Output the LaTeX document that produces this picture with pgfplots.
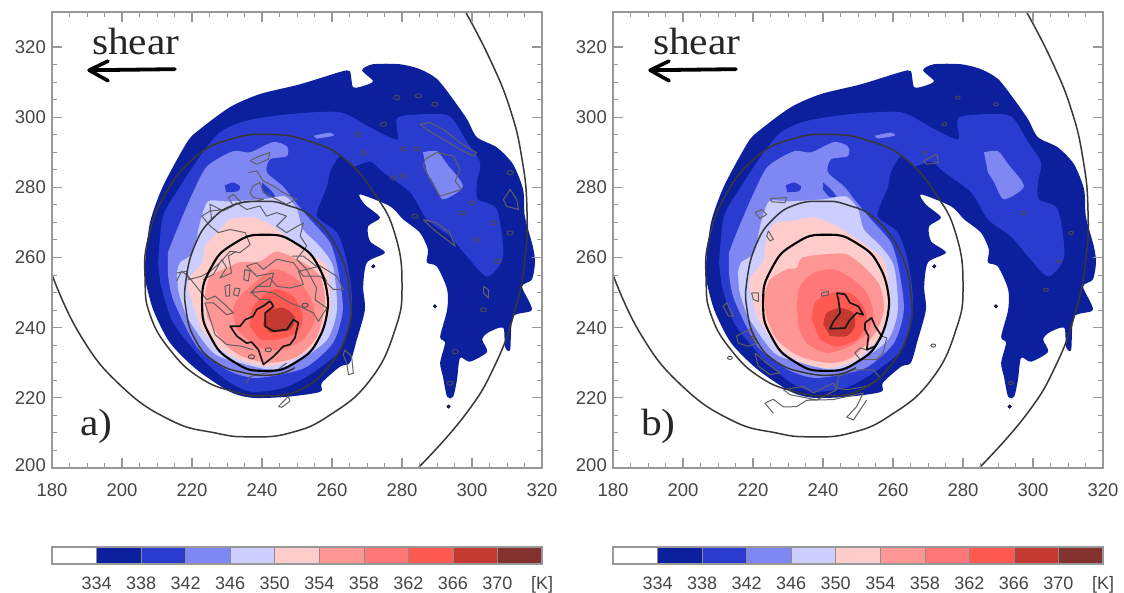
\documentclass[border=0pt]{standalone}
\usepackage{fontspec}
\setmainfont{Liberation Sans}
\newfontfamily\capfont{Liberation Serif}
\usepackage{pgfplots}
\usepackage{pgfplotstable}
\pgfplotsset{compat=1.18}
\definecolor{cA}{HTML}{0C1F9C}
\definecolor{cB}{HTML}{2A3BD0}
\definecolor{cC}{HTML}{7F88F2}
\definecolor{cD}{HTML}{CBCEFF}
\definecolor{cE}{HTML}{FFCCCC}
\definecolor{cF}{HTML}{FF9696}
\definecolor{cG}{HTML}{FF7777}
\definecolor{cH}{HTML}{FF5A52}
\definecolor{cI}{HTML}{C43A30}
\definecolor{cJ}{HTML}{84322F}
\definecolor{frame}{HTML}{989898}
\definecolor{lab}{HTML}{454545}

% Level 334
\pgfplotstableread{
x y
206.6 258.6
208.0 270.0
211.7 280.3
218.6 292.9
222.3 296.6
230.9 302.9
239.4 306.6
250.9 309.4
262.3 312.9
265.1 313.1
266.0 308.6
268.9 308.9
271.7 310.3
268.6 313.4
271.7 315.1
279.4 315.1
285.1 313.7
290.0 310.9
294.6 305.1
298.6 299.4
301.4 294.3
307.1 291.4
311.7 286.6
314.6 279.4
315.1 271.7
317.4 263.1
318.0 258.6
317.1 253.7
314.3 251.7
317.1 245.1
311.7 243.1
310.9 233.7
309.4 234.6
308.9 240.0
304.6 238.6
302.9 236.6
304.3 233.1
299.4 230.3
296.6 231.4
295.7 225.1
294.6 220.3
292.9 220.3
291.7 226.0
290.9 230.0
292.3 235.7
290.9 237.4
292.9 245.1
292.9 250.9
290.0 257.4
287.1 258.6
287.4 262.3
285.1 267.1
280.3 270.9
276.6 274.6
268.0 278.0
269.4 275.1
273.7 271.4
270.3 268.9
270.9 264.6
275.1 261.4
270.0 258.6
268.9 251.7
269.4 245.1
267.1 236.6
265.1 230.0
262.3 228.9
257.1 224.3
256.6 221.7
247.1 220.3
237.4 220.0
230.9 221.7
221.4 228.0
213.7 235.7
208.9 245.1
206.6 253.7
}\LevelA
% Level 338
\pgfplotstableread{
x y
210.3 258.6
211.7 271.7
216.6 280.3
223.1 290.0
228.0 295.7
235.1 298.9
248.0 300.9
262.3 301.4
270.9 297.1
278.6 293.7
278.9 300.0
290.9 300.9
294.6 299.4
298.6 292.9
302.3 287.1
301.4 281.4
301.7 276.6
307.1 273.7
308.9 260.3
304.3 254.6
298.6 260.3
293.7 266.0
287.1 270.9
282.3 278.6
274.6 284.3
270.9 287.4
266.0 286.0
262.3 288.9
259.4 284.3
258.6 280.3
257.4 277.4
255.7 271.7
261.4 267.1
264.3 258.6
265.7 247.1
263.1 234.6
255.7 228.0
247.1 223.1
237.4 221.7
230.9 224.3
223.1 230.9
214.6 241.4
210.9 252.9
}\LevelB
% Level 342
\pgfplotstableread{
x y
213.1 261.4
215.7 268.0
220.3 278.6
224.3 286.0
231.7 290.3
236.6 290.0
243.1 292.9
247.1 291.7
247.1 288.9
242.3 288.0
241.4 284.3
246.0 280.3
248.9 276.6
253.7 270.9
259.4 264.3
261.7 256.6
263.1 245.1
260.3 235.7
252.9 228.9
245.1 226.6
237.4 225.7
230.0 228.0
221.4 234.6
214.6 248.0
213.1 255.7
}\LevelC
\pgfplotstableread{
x y
286.0 290.0
290.0 290.3
292.9 286.6
297.4 280.3
291.7 276.6
288.9 281.4
287.1 284.3
}\PatchTail
\pgfplotstableread{
x y
254.7 294.7
259.4 295.6
260.4 294.7
255.6 293.9
}\PatchTop
\pgfplotstableread{
x y
229.4 280.6
231.7 281.4
233.7 280.3
233.1 278.9
229.7 278.6
}\BlobOne
\pgfplotstableread{
x y
240.0 281.4
242.3 279.4
243.7 277.4
241.7 277.4
240.0 279.4
}\BlobTwo
% Level 346
\pgfplotstableread{
x y
215.7 255.7
216.6 258.6
220.3 261.4
222.3 270.0
224.6 276.0
230.0 276.0
240.3 276.6
246.6 277.4
250.0 273.7
251.7 268.0
256.6 263.1
260.3 257.4
261.4 245.1
258.6 236.6
250.9 230.9
243.1 228.0
233.7 230.0
226.0 232.9
218.6 243.1
216.0 250.9
}\LevelD
% Panel a inner levels
\pgfplotstableread{
x y
218.9 250.9
219.4 254.3
222.9 258.6
223.7 263.1
228.0 268.0
230.9 270.9
237.4 271.4
243.1 268.9
252.9 261.4
258.6 257.4
259.4 245.1
255.7 235.7
248.9 230.9
241.4 228.9
233.7 230.9
227.1 234.6
222.3 240.3
}\AE
\pgfplotstableread{
x y
223.7 248.9
225.1 254.6
230.9 257.4
233.1 258.6
239.4 258.9
244.3 261.7
251.7 258.6
256.6 254.6
258.0 247.1
255.7 237.4
250.0 231.7
242.3 230.0
234.6 231.7
228.9 235.7
224.3 243.1
}\AF
\pgfplotstableread{
x y
231.4 244.3
232.9 248.0
236.6 251.7
243.1 256.6
248.9 254.6
253.7 248.9
255.1 242.3
251.7 236.6
245.1 233.7
238.6 234.6
232.9 239.4
}\AG
\pgfplotstableread{
x y
236.6 240.3
237.4 246.0
243.1 250.9
248.9 248.9
251.7 243.1
250.0 238.6
244.3 236.6
239.4 236.6
}\AH
\pgfplotstableread{
x y
240.3 240.9
241.7 244.6
246.0 245.7
249.4 243.1
248.0 239.4
242.3 238.6
}\AI
% Panel b inner levels
\pgfplotstableread{
x y
219.1 250.9
219.3 254.2
223.0 259.0
223.4 263.3
225.8 269.5
230.6 270.4
237.2 271.4
243.0 269.5
246.8 267.1
252.5 263.3
257.7 258.5
259.1 246.1
256.3 237.6
249.6 230.9
242.0 228.5
234.4 229.9
226.8 234.7
221.0 243.3
}\BE
\pgfplotstableread{
x y
223.1 249.0
224.9 253.7
229.6 256.6
232.5 257.1
233.9 259.9
240.1 260.9
246.8 260.9
252.5 256.6
256.3 251.8
257.4 245.2
254.9 238.5
248.7 231.8
242.0 229.9
233.4 231.8
226.8 236.6
223.7 243.3
}\BF
\pgfplotstableread{
x y
232.5 246.1
233.4 251.8
237.2 255.6
243.0 256.6
248.7 253.7
252.5 249.9
254.4 244.2
252.5 238.5
247.7 234.7
241.0 232.8
235.3 235.6
233.0 240.4
}\BG
\pgfplotstableread{
x y
236.8 242.3
237.7 247.1
242.0 249.9
247.7 249.9
251.5 246.1
252.5 241.4
249.6 236.6
243.9 234.7
239.1 236.6
}\BH
\pgfplotstableread{
x y
240.1 240.9
241.0 244.2
244.9 245.6
248.7 244.2
249.1 240.4
246.8 237.6
242.0 237.6
}\BI
% Spiral, arc, ring
\pgfplotstableread{
x y
180 255.1
188 238
199.4 223.7
213.7 213.7
226.6 210
236.6 208.9
248 210
259.4 215.1
270.9 225.1
278 239.4
280 252.3
278 266.6
272.3 278
263.7 288
253.7 293.1
242.3 295.1
230.9 293.7
220.9 288.6
212.3 278
207.4 265.1
206.6 253.7
208 243.7
213.7 233.7
222.3 225.7
232.3 221.7
240.9 220.6
250.9 222.3
259.4 229.4
264.6 239.4
265.1 249.4
262.3 260.9
255.1 270.9
246.6 275.1
240 276
232.3 275.1
225.7 270.9
220.9 263.7
218.3 253.7
218.3 245.1
220.9 236.6
226.6 230.3
235.1 227.1
243.7 226.6
249.4 228.6
}\Spiral
\pgfplotstableread{
x y
298 330.3
305.1 316.6
310.9 302.3
314.3 288
315.7 273.7
315.1 259.4
312.3 245.1
306.6 229.4
298 215.1
284.6 200
}\Arc
\pgfplotstableread{
x y
258.9 247.1
256.5 256.8
249.9 263.9
240.9 266.5
231.9 263.9
225.3 256.8
222.9 247.1
225.3 237.4
231.9 230.3
240.9 227.7
249.9 230.3
256.5 237.4
258.9 247.1
}\Ring
% Panel a contours
\pgfplotstableread{
x y
242.3 247.6
240.4 246.2
238.5 245.2
237.4 243.2
235.2 242.3
233.7 240.4
230.9 240.4
232.8 237.6
235.6 235.6
237.0 235.9
239 233.7
240.4 229.5
243.3 231.8
246.1 234.7
248.0 235.2
249.4 237.1
250.4 241.4
249 242.3
247.1 239.5
243.3 239
240.9 240.4
240.9 244.2
243.3 246.1
242.3 247.6
}\ACore
\pgfplotstableread{
x y
215.6 255.6
218.5 256.1
219 253.7
222.8 254.7
225.2 256.1
228 258.5
230.9 261.8
233.7 261.4
236.6 263.7
235.2 267.1
230.9 268
227.5 267.1
225.2 269
222.8 271.8
225.2 273.3
229.9 273.7
232.8 275.6
235.6 273.7
239.4 274.7
241.3 271.8
244.2 272.8
247 271.8
244.2 269
247 267.1
251.8 269.9
250.9 266.1
252.8 263.3
249.9 259.5
252.8 256.6
256.6 257.6
261.3 254.7
263.3 250.9
260.4 250.9
256.6 254.7
251.8 254.7
249 258.5
244.2 259.5
240.4 256.6
238.5 258.5
235.6 257.6
238.5 254.7
243.3 255.6
242.3 251.8
238.5 251.8
237.1 249.9
239.4 248
242.3 248
nan nan
236.1 284.2
238.5 284.7
240.4 281.8
243.2 280.4
246.1 278.5
249.9 276.6
247 275.2
243.2 277.1
240.4 278.5
239.4 281.4
237.5 280.4
236.6 278.5
237.5 277.1
240.4 276.6
238.5 276.1
234.2 275.6
231.8 278
230.4 277.1
231.8 274.7
228.9 273.3
225.1 275.2
225.6 270.9
nan nan
236.6 287.6
239.4 289
242.3 289.9
241.8 288
238.5 286.6
236.6 287.6
nan nan
215.6 253.3
217 256.1
218.9 254.7
220.8 252.3
224.2 248
226.6 249
229.4 246.6
231.8 244.2
229.9 243.7
226.1 247.1
223.7 247.1
225.1 242.8
226.6 238
229.9 235.2
234.2 234.7
237.5 233.7
nan nan
236.6 249.9
239.4 252.3
242.3 254.2
244.2 251.8
248 251.3
251.8 252.3
250.4 256.1
252.7 256.6
255.6 251.3
255.1 248
258.5 245.6
256.1 241.8
254.7 244.2
251.8 245.6
248 247.1
243.2 249.9
239.9 250.4
236.6 249.9
nan nan
235.6 224.2
236.6 226.1
241.3 227.1
244.2 227.8
247 229.9
nan nan
263.7 233.7
265.6 231.8
266.1 227
264.7 226.6
264.2 229.9
263.2 232.3
263.7 233.7
nan nan
244.7 217.5
247.5 220.4
248 219
245.6 217.3
244.7 217.5
nan nan
285.2 298
288 298.5
291.8 296.5
296.6 292.7
301.3 289.9
300.4 288.9
296.6 290.8
291.8 293.7
287.1 296.5
285.2 298
nan nan
286.6 288
289.9 289.9
294.7 288.9
296.6 285.1
295.2 281.8
297 279.4
293.7 278.4
290.9 277.5
288 282.3
286.1 286.1
286.6 288
nan nan
286.1 270.8
289.9 269.9
293.7 267
295.2 263.2
292.8 265.1
289 268
286.1 270.8
nan nan
223.2 253.7
226.1 255.2
228.5 259.4
229.9 257.1
228 254.2
231.3 255.6
230.4 260.4
232.7 261.8
nan nan
229.4 251.8
230.8 252.3
230.7 249
229.7 249
229.4 251.8
nan nan
232.3 251.3
233.7 251.1
233.2 249
231.8 249.4
232.3 251.3
nan nan
235.1 256.6
236.6 256.1
236.1 253.3
234.8 253.7
235.1 256.6
nan nan
248.5 260.4
251.8 260.4
256.1 257.1
258.5 253.3
nan nan
309 276.5
310.9 279.4
312.8 276.5
313.3 273.7
309.9 274.6
309 276.5
nan nan
303.3 251.8
304.7 250.8
304.7 248.4
303.3 249.9
303.3 251.8
}\AGray
\pgfplotstableread{
x y
278.5 305.6
284.7 306.1
289.4 303.7
274.7 298
267.5 295.1
269 289.9
280.4 291
284.2 291
277.5 282.7
280.4 283.2
299.9 275.6
297.1 272.7
306.1 269.9
310.9 267
301.3 265.1
283.7 271.8
303.3 245.1
295.2 233.2
310.9 284.2
307.5 258.9
293.7 224.2
252.3 246.4
241.8 233.7
237 231.7
}\ASpecks
% Panel b contours
\pgfplotstableread{
x y
243.9 249.9
246.3 249.5
247.7 247.1
250.1 246.1
251.5 243.7
249.6 244.2
247.7 242.3
246.3 239.9
242 239.7
243 241.8
244.9 244.2
244.4 248
243.9 249.9
nan nan
252 241.4
253.9 242.8
254.9 240.4
256.8 237.6
254.9 234.7
252.5 233.7
253 237.6
252 239.5
252 241.4
}\BCore
\pgfplotstableread{
x y
256.8 237.6
258.2 237.1
257.2 232.8
255.3 230.9
250.6 230.9
249.1 232.8
250.6 234.2
252.5 233.7
nan nan
254.4 228
256.3 225.6
252.5 223.3
246.8 222.3
243.9 222.8
244.4 226.1
248.7 228
254.4 228
nan nan
212.5 247.1
214.4 243.3
213 243.3
211.5 246.1
212.5 247.1
nan nan
215.3 237.6
219.1 239.5
221 235.6
218.7 234.7
215.8 235.6
215.3 237.6
nan nan
220.6 232.8
223.9 229.9
227.7 227.1
224.9 226.6
221.5 229
220.6 232.8
nan nan
228.7 222.3
234.4 223.3
237.2 221.4
240.1 222.8
243 224.2
243.9 222.3
238.2 219.4
230.6 220.9
228.7 222.3
nan nan
225.8 215.6
223.4 218.5
225.8 219.6
228.7 217.4
232.5 217.5
235.3 219.3
242.9 219.5
251.5 221.4
249.6 217.5
246.8 214.5
248.7 213.7
252.5 219.4
nan nan
220.6 272.8
222.5 273.7
223.9 272.3
222 271.1
220.6 272.8
nan nan
224.9 276.8
229.6 277.1
229.1 275.6
225.3 275.9
224.9 276.8
nan nan
219.6 249.9
221.5 249.9
221.5 247.5
220.1 248
219.6 249.9
nan nan
224.4 267.6
225.8 265.2
224.9 264.7
223.9 266.1
224.4 267.6
nan nan
239.6 249.9
241.5 250.4
241.5 249.3
239.6 249
239.6 249.9
nan nan
268.7 287.6
272.5 289.5
273 287.1
269.6 286.6
268.7 287.6
}\BGray
\pgfplotstableread{
x y
278.5 305.6
289.4 303.7
274.7 298
269 289.9
297.1 272.7
310.9 267
303.7 250.8
307.5 258.9
293.7 224.2
219.6 237.1
271.5 234.9
213.4 231.4
}\BSpecks
\pgfplotstableread{
x y
271.8 257.5
289.4 246.1
293.3 217.5
}\Dots

\pgfplotsset{
  panel/.style={
    anchor=south west, scale only axis, width=490pt, height=456pt,
    xmin=180, xmax=320, ymin=200, ymax=330,
    xtick={180,200,...,320},
    xticklabels={180,200,220,240,260,280,300,320},
    ytick={200,220,...,320},
    yticklabels={\raisebox{6pt}{200},220,240,260,280,300,320},
    minor tick num=3,
    tick align=inside,
    major tick length=10pt, minor tick length=5pt,
    tick style={frame, line width=1.2pt},
    minor tick style={frame, line width=1pt},
    axis line style={frame, line width=1.5pt},
    xticklabel style={font=\fontsize{18.5}{18.5}\selectfont, text=lab, yshift=-14pt},
    yticklabel style={font=\fontsize{18.5}{18.5}\selectfont, text=lab, xshift=-5pt},
    tick label style={inner sep=1pt},
    axis on top,
    unbounded coords=jump,
  },
  fillA/.style={draw=none, fill=#1, forget plot, smooth, tension=0.45},
  cbar/.style={
    anchor=south west, scale only axis, width=490pt, height=17pt,
    xmin=330, xmax=374, ymin=0, ymax=1,
    xtick={334,338,...,370,374},
    xticklabels={334,338,342,346,350,354,358,362,366,370,{[K]}},
    ytick=\empty,
    major tick length=0pt,
    axis line style={frame, line width=1.2pt},
    xticklabel style={font=\fontsize{18}{18}\selectfont, text=lab, yshift=-9pt},
    axis on top,
  },
  cell/.style={draw=black!45, line width=.6pt, fill=#1},
}
\newcommand{\sharedfills}{%
  \addplot[fillA=cA] table {\LevelA} -- cycle;
  \addplot[fillA=cB] table {\LevelB} -- cycle;
  \addplot[fillA=cC] table {\PatchTail} -- cycle;
  \addplot[fillA=cC] table {\PatchTop} -- cycle;
  \addplot[fillA=cC] table {\LevelC} -- cycle;
  \addplot[fillA=cB] table {\BlobOne} -- cycle;
  \addplot[fillA=cB] table {\BlobTwo} -- cycle;
  \addplot[fillA=cD] table {\LevelD} -- cycle;
  \addplot[only marks, mark=*, mark size=1.8pt, mark options={fill=cA, draw=none}] table {\Dots};
}
\newcommand{\curves}{%
  \addplot[black!78, line width=1.5pt, smooth, tension=0.8, no marks] table {\Spiral};
  \addplot[black!78, line width=1.5pt, smooth, tension=0.8, no marks] table {\Arc};
  \addplot[black, line width=2.1pt, smooth, tension=0.9, no marks] table {\Ring};
}
\newcommand{\notes}[1]{%
  \node[font=\capfont\fontsize{38}{38}\selectfont, xscale=1.09, anchor=base west, text=black!85, inner sep=0pt] at (axis cs:191.4,318) {shear};
  \draw[black, line width=3.8pt, line cap=round] (axis cs:215.1,313.7) -- (axis cs:191,313.4);
  \draw[black, line width=3.6pt, line cap=round, line join=round] (axis cs:196,316) -- (axis cs:190.6,313.4) -- (axis cs:196,310.4);
  \node[font=\capfont\fontsize{38}{38}\selectfont, xscale=1.09, anchor=base west, text=black!85, inner sep=0pt] at (axis cs:188,209.4) {#1};
}
\newcommand{\colorcells}{%
  \addplot[cell=white] coordinates {(330,0) (334,0) (334,1) (330,1)} -- cycle;
  \addplot[cell=cA] coordinates {(334,0) (338,0) (338,1) (334,1)} -- cycle;
  \addplot[cell=cB] coordinates {(338,0) (342,0) (342,1) (338,1)} -- cycle;
  \addplot[cell=cC] coordinates {(342,0) (346,0) (346,1) (342,1)} -- cycle;
  \addplot[cell=cD] coordinates {(346,0) (350,0) (350,1) (346,1)} -- cycle;
  \addplot[cell=cE] coordinates {(350,0) (354,0) (354,1) (350,1)} -- cycle;
  \addplot[cell=cF] coordinates {(354,0) (358,0) (358,1) (354,1)} -- cycle;
  \addplot[cell=cG] coordinates {(358,0) (362,0) (362,1) (358,1)} -- cycle;
  \addplot[cell=cH] coordinates {(362,0) (366,0) (366,1) (362,1)} -- cycle;
  \addplot[cell=cI] coordinates {(366,0) (370,0) (370,1) (366,1)} -- cycle;
  \addplot[cell=cJ] coordinates {(370,0) (374,0) (374,1) (370,1)} -- cycle;
}
\begin{document}
\begin{tikzpicture}
\path[use as bounding box] (0,0) rectangle (1124pt,593pt);
% Panel a
\begin{axis}[panel, at={(52pt,125pt)}]
  \sharedfills
  \addplot[fillA=cE] table {\AE} -- cycle;
  \addplot[fillA=cF] table {\AF} -- cycle;
  \addplot[fillA=cG] table {\AG} -- cycle;
  \addplot[fillA=cH] table {\AH} -- cycle;
  \addplot[fillA=cI] table {\AI} -- cycle;
  \addplot[black!62, line width=1pt, no marks, line join=round] table {\AGray};
  \addplot[only marks, mark=o, mark size=2.1pt, mark options={xscale=1.5, draw=black!70, line width=.9pt}] table {\ASpecks};
  \addplot[black!90, line width=1.7pt, no marks, line join=round] table {\ACore};
  \curves
  \notes{a)}
\end{axis}
% Panel b
\begin{axis}[panel, at={(613pt,125pt)}]
  \sharedfills
  \addplot[fillA=cE] table {\BE} -- cycle;
  \addplot[fillA=cF] table {\BF} -- cycle;
  \addplot[fillA=cG] table {\BG} -- cycle;
  \addplot[fillA=cH] table {\BH} -- cycle;
  \addplot[fillA=cI] table {\BI} -- cycle;
  \addplot[black!62, line width=1pt, no marks, line join=round] table {\BGray};
  \addplot[only marks, mark=o, mark size=1.6pt, mark options={xscale=1.5, draw=black!70, line width=.9pt}] table {\BSpecks};
  \addplot[black!90, line width=1.7pt, no marks, line join=round] table {\BCore};
  \curves
  \notes{b)}
\end{axis}
% Colour bars
\begin{axis}[cbar, at={(52pt,29pt)}]
  \colorcells
\end{axis}
\begin{axis}[cbar, at={(613pt,29pt)}]
  \colorcells
\end{axis}
\end{tikzpicture}
\end{document}
